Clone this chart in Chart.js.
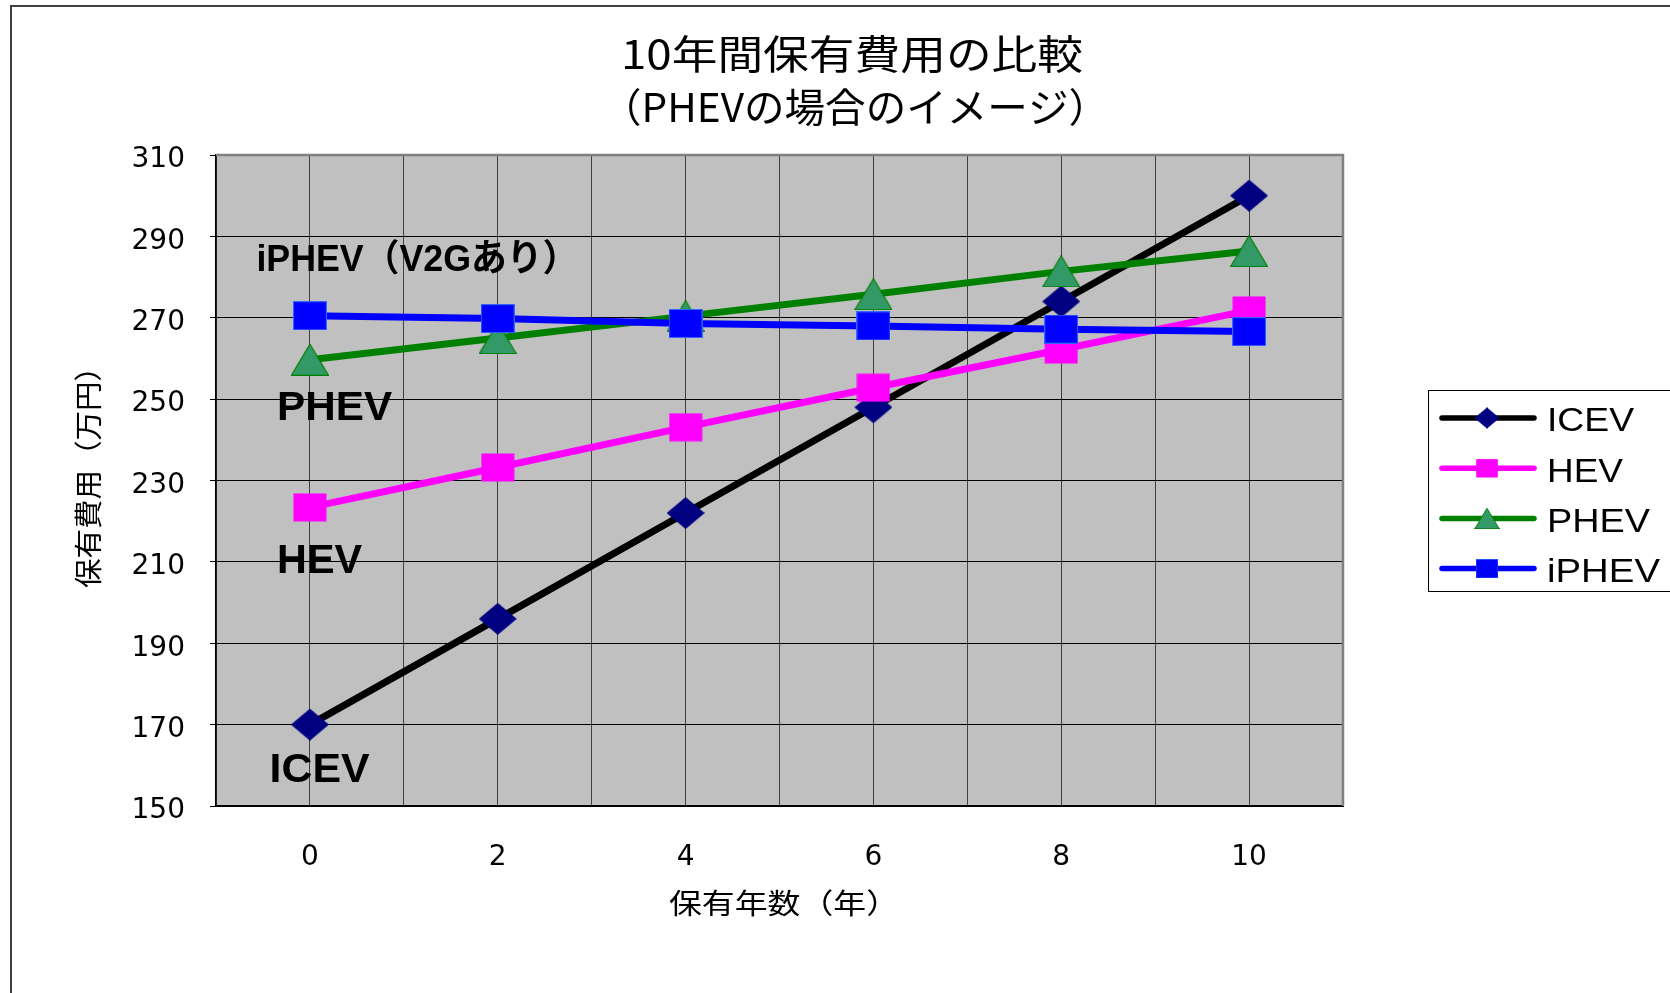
<!DOCTYPE html>
<html>
<head>
<meta charset="utf-8">
<script src="https://cdn.jsdelivr.net/npm/chart.js@4.4.1/dist/chart.umd.min.js"></script>
<style>
  html, body { margin: 0; padding: 0; background: #ffffff; }
  canvas { display: block; }
</style>
</head>
<body>
<canvas id="chart" width="1670" height="993"></canvas>
<script>
// ---- data ----
const years = [0, 2, 4, 6, 8, 10];
const icevCost = [170, 196, 222, 248, 274, 300];
const hevCost = [223.4, 233.2, 243.1, 252.8, 262.2, 271.8];
const phevCost = [259.7, 265.0, 270.4, 275.8, 281.4, 286.4];
const iphevCost = [270.5, 269.8, 268.6, 268.0, 267.2, 266.6];
const seriesNames = ['ICEV', 'HEV', 'PHEV', 'iPHEV'];
const yTickValues = [150, 170, 190, 210, 230, 250, 270, 290, 310];
const xRange = [-1, 11];

const titleLines = ['10年間保有費用の比較', '（PHEVの場合のイメージ）'];
const xAxisTitle = '保有年数（年）';
const yAxisTitle = '保有費用（万円）';
const noteTexts = ['iPHEV（V2Gあり）', 'PHEV', 'HEV', 'ICEV'];

// ---- styling / placement ----
const noteLayout = [
  { x: -0.57, y: 283.9, w: 322, size: 37 },
  { x: -0.35, y: 247.5, w: 115, size: 40 },
  { x: -0.35, y: 210.0, w: 85,  size: 40 },
  { x: -0.43, y: 158.6, w: 100, size: 40 }
];
const lineColors = ['#000000', '#FF00FF', '#008000', '#0000FF'];

function makeMarker(kind, w, h, fill, stroke) {
  const c = document.createElement('canvas');
  c.width = w; c.height = h;
  const g = c.getContext('2d');
  g.beginPath();
  if (kind === 'diamond') {
    g.moveTo(w / 2, 0); g.lineTo(w, h / 2); g.lineTo(w / 2, h); g.lineTo(0, h / 2);
  } else if (kind === 'square') {
    g.rect(0.5, 0.5, w - 1, h - 1);
  } else {
    g.moveTo(w / 2, 0.5); g.lineTo(w - 0.5, h - 0.5); g.lineTo(0.5, h - 0.5);
  }
  g.closePath();
  g.fillStyle = fill; g.fill();
  if (stroke) { g.lineWidth = 1.2; g.strokeStyle = stroke; g.stroke(); }
  return c;
}

const markers = [
  makeMarker('diamond', 38, 32, '#000080', null),
  makeMarker('square', 34, 29, '#FF00FF', null),
  makeMarker('triangle', 38, 32, '#339966', '#008000'),
  makeMarker('square', 34, 29, '#0000FF', '#3366FF')
];

const seriesValues = [icevCost, hevCost, phevCost, iphevCost];
const datasets = seriesNames.map((name, k) => ({
  label: name,
  data: years.map((yr, i) => ({ x: yr, y: seriesValues[k][i] })),
  borderColor: lineColors[k],
  backgroundColor: lineColors[k],
  borderWidth: 7,
  pointStyle: markers[k],
  pointRadius: 18,
  pointHoverRadius: 18,
  order: seriesNames.length - 1 - k
}));

function drawFit(ctx, text, x, y, width, font, align) {
  ctx.save();
  ctx.font = font;
  ctx.textBaseline = 'middle';
  ctx.textAlign = 'left';
  const natural = ctx.measureText(text).width;
  const s = width / natural;
  const left = align === 'left' ? x : x - width / 2;
  ctx.translate(left, y);
  ctx.scale(s, 1);
  ctx.fillStyle = '#000';
  ctx.fillText(text, 0, 0);
  ctx.restore();
}

const decor = {
  id: 'decor',
  beforeDraw(chart) {
    const { ctx, chartArea: a } = chart;
    ctx.save();
    ctx.fillStyle = '#ffffff';
    ctx.fillRect(0, 0, chart.width, chart.height);
    ctx.fillStyle = '#C0C0C0';
    ctx.fillRect(a.left, a.top, a.right - a.left, a.bottom - a.top);
    ctx.strokeStyle = '#404040';
    ctx.lineWidth = 2;
    ctx.strokeRect(11, 6, chart.width + 40, chart.height + 40);
    ctx.restore();
  },
  beforeDatasetsDraw(chart) {
    const { ctx, chartArea: a } = chart;
    ctx.save();
    ctx.strokeStyle = '#808080';
    ctx.lineWidth = 2.5;
    ctx.beginPath();
    ctx.moveTo(a.left, a.top);
    ctx.lineTo(a.right, a.top);
    ctx.lineTo(a.right, a.bottom);
    ctx.stroke();
    ctx.restore();
  },
  afterDraw(chart) {
    const { ctx } = chart;
    const xs = chart.scales.x, ys = chart.scales.y;
    const cjk = "'Noto Sans CJK JP', sans-serif";

    // title
    drawFit(ctx, titleLines[0], 852, 54, 462, '40px ' + cjk, 'center');
    drawFit(ctx, titleLines[1], 855, 107, 508, '40px ' + cjk, 'center');

    // axis titles
    drawFit(ctx, xAxisTitle, 669, 903, 230, '28px ' + cjk, 'left');
    ctx.save();
    ctx.translate(88, 588);
    ctx.rotate(-Math.PI / 2);
    drawFit(ctx, yAxisTitle, 0, 0, 236, '28px ' + cjk, 'left');
    ctx.restore();

    // series name notes inside the plot
    noteTexts.forEach((t, i) => {
      const n = noteLayout[i];
      drawFit(ctx, t, xs.getPixelForValue(n.x), ys.getPixelForValue(n.y), n.w,
        'bold ' + n.size + "px 'Liberation Sans', 'Noto Sans CJK JP', sans-serif", 'left');
    });

    // legend
    const box = { left: 1428.5, top: 390.5, bottom: 591.5 };
    ctx.save();
    ctx.fillStyle = '#ffffff';
    ctx.fillRect(box.left, box.top, chart.width, box.bottom - box.top);
    ctx.strokeStyle = '#000';
    ctx.lineWidth = 1;
    ctx.strokeRect(box.left, box.top, chart.width, box.bottom - box.top);
    ctx.restore();
    const legendWidths = [87, 76, 103, 113];
    chart.data.datasets.forEach((ds, i) => {
      const y = 418 + i * 50.2;
      ctx.save();
      ctx.strokeStyle = ds.borderColor;
      ctx.lineWidth = 5.5;
      ctx.lineCap = 'round';
      ctx.beginPath();
      ctx.moveTo(1442, y);
      ctx.lineTo(1534, y);
      ctx.stroke();
      const m = ds.pointStyle;
      const s = 0.66;
      ctx.drawImage(m, 1487 - m.width * s / 2, y - m.height * s / 2, m.width * s, m.height * s);
      ctx.restore();
      drawFit(ctx, ds.label, 1547, y + 4, legendWidths[i], "34px 'Liberation Sans', sans-serif", 'left');
    });
  }
};

const tickFont = { family: "'DejaVu Sans', sans-serif", size: 28 };

new Chart(document.getElementById('chart'), {
  type: 'line',
  data: { datasets },
  options: {
    responsive: false,
    animation: false,
    devicePixelRatio: 1,
    layout: { padding: { top: 155, right: 327, left: 0, bottom: 0 } },
    plugins: { legend: { display: false }, title: { display: false }, tooltip: { enabled: false } },
    elements: { line: { tension: 0, borderJoinStyle: 'round', borderCapStyle: 'round' } },
    scales: {
      x: {
        type: 'linear',
        min: xRange[0],
        max: xRange[1],
        afterFit(s) { s.height = 187; },
        ticks: {
          stepSize: 1,
          autoSkip: false,
          maxRotation: 0,
          padding: 35,
          color: '#000',
          font: tickFont,
          callback: (v) => (years.includes(v) ? String(v) : '')
        },
        grid: { color: '#404040', lineWidth: 1, drawTicks: false },
        border: { display: true, color: '#000', width: 2 }
      },
      y: {
        type: 'linear',
        min: yTickValues[0],
        max: yTickValues[yTickValues.length - 1],
        afterFit(s) { s.width = 216; },
        afterBuildTicks(s) { s.ticks = yTickValues.map(v => ({ value: v })); },
        ticks: { padding: 25, labelOffset: 5, color: '#000', font: tickFont },
        grid: { color: '#000', lineWidth: 1, drawTicks: true, tickLength: 6, tickColor: '#000' },
        border: { display: true, color: '#000', width: 1.5 }
      }
    }
  },
  plugins: [decor]
});
</script>
</body>
</html>
